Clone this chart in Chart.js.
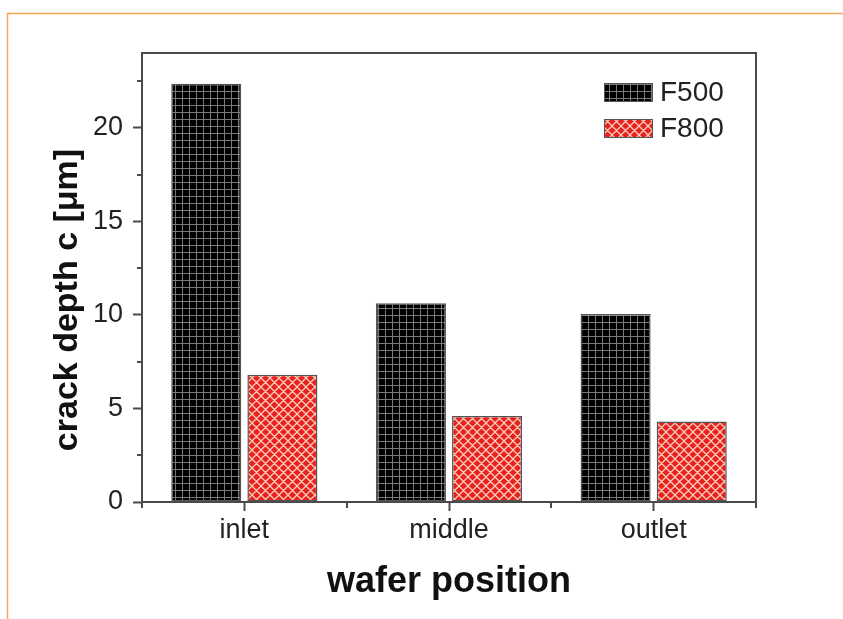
<!DOCTYPE html>
<html>
<head>
<meta charset="utf-8">
<title>crack depth vs wafer position</title>
<script src="https://cdn.jsdelivr.net/npm/chart.js@4.4.1/dist/chart.umd.min.js"></script>
<style>
  body { margin: 0; background: #fff; }
  #wrap { width: 843px; height: 619px; }
</style>
</head>
<body>
<div id="wrap"><canvas id="crackChart" width="843" height="619"></canvas></div>
<script>
// values
const positions = ['inlet', 'middle', 'outlet'];
const seriesNames = ['F500', 'F800'];
const f500Depth = [22.35, 10.62, 10.05];
const f800Depth = [6.8, 4.6, 4.3];
const yMinorTicks = [2.5, 7.5, 12.5, 17.5, 22.5];

const fontFamily = "'Liberation Sans', Arial, Helvetica, sans-serif";
const axisColor = '#4a4a4a';
const textColor = '#222';

// black with grey grid
function makeGridPattern() {
  const c = document.createElement('canvas');
  c.width = 7; c.height = 7;
  const g = c.getContext('2d');
  g.fillStyle = '#000';
  g.fillRect(0, 0, 7, 7);
  g.fillStyle = '#7a7a7a';
  g.fillRect(0, 0, 7, 1);
  g.fillRect(0, 0, 1, 7);
  return g.createPattern(c, 'repeat');
}

// red with light diagonal cross hatch
function makeDiamondPattern() {
  const s = 9;
  const c = document.createElement('canvas');
  c.width = s; c.height = s;
  const g = c.getContext('2d');
  g.fillStyle = '#e8211c';
  g.fillRect(0, 0, s, s);
  g.strokeStyle = '#f9cdbd';
  g.lineWidth = 1.3;
  g.beginPath();
  for (let k = -1; k <= 1; k++) {
    g.moveTo(-2, -2 + k * s); g.lineTo(s + 2, s + 2 + k * s);
    g.moveTo(-2, s + 2 + k * s); g.lineTo(s + 2, -2 + k * s);
  }
  g.stroke();
  return g.createPattern(c, 'repeat');
}

const f500Fill = makeGridPattern();
const f800Fill = makeDiamondPattern();

const framePlugin = {
  id: 'frame',
  beforeDraw(chart) {
    const ctx = chart.ctx;
    ctx.save();
    ctx.fillStyle = '#fff';
    ctx.fillRect(0, 0, chart.width, chart.height);
    ctx.strokeStyle = '#f2a65a';
    ctx.lineWidth = 1.5;
    ctx.beginPath();
    ctx.moveTo(7.5, chart.height);
    ctx.lineTo(7.5, 13.5);
    ctx.lineTo(chart.width, 13.5);
    ctx.stroke();
    ctx.restore();
  },
  afterDraw(chart) {
    const ctx = chart.ctx;
    const a = chart.chartArea;
    const x = chart.scales.x;
    const y = chart.scales.y;
    ctx.save();
    ctx.strokeStyle = axisColor;
    ctx.lineWidth = 2;
    // top and right sides of the box
    ctx.beginPath();
    ctx.moveTo(a.left - 1, a.top);
    ctx.lineTo(a.right, a.top);
    ctx.lineTo(a.right, a.bottom + 1);
    ctx.stroke();

    // minor ticks
    ctx.beginPath();
    yMinorTicks.forEach(v => {
      const py = Math.round(y.getPixelForValue(v));
      ctx.moveTo(a.left - 5, py);
      ctx.lineTo(a.left, py);
    });
    for (let i = 0; i <= positions.length; i++) {
      let px;
      if (i === 0) px = a.left;
      else if (i === positions.length) px = a.right;
      else px = (x.getPixelForValue(i - 1) + x.getPixelForValue(i)) / 2;
      px = Math.round(px);
      ctx.moveTo(px, a.bottom);
      ctx.lineTo(px, a.bottom + 6);
    }
    ctx.stroke();

    // y axis title
    ctx.fillStyle = '#111';
    ctx.font = 'bold 34px ' + fontFamily;
    ctx.textAlign = 'center';
    ctx.textBaseline = 'alphabetic';
    ctx.translate(77, 300);
    ctx.rotate(-Math.PI / 2);
    ctx.fillText('crack depth c [\u03bcm]', 0, 0);
    ctx.restore();

    // legend
    ctx.save();
    const fills = [f500Fill, f800Fill];
    const rows = [83, 119];
    ctx.font = '28px ' + fontFamily;
    ctx.textBaseline = 'middle';
    ctx.textAlign = 'left';
    seriesNames.forEach((name, i) => {
      ctx.fillStyle = fills[i];
      ctx.fillRect(604, rows[i], 49, 19);
      ctx.strokeStyle = '#555';
      ctx.lineWidth = 1;
      ctx.strokeRect(604.5, rows[i] + 0.5, 48, 18);
      ctx.fillStyle = textColor;
      ctx.fillText(name, 660, rows[i] + 10);
    });
    ctx.restore();
  }
};

new Chart(document.getElementById('crackChart'), {
  type: 'bar',
  data: {
    labels: positions,
    datasets: [
      {
        label: seriesNames[0],
        data: f500Depth,
        backgroundColor: f500Fill,
        borderColor: '#555',
        borderWidth: 1.5,
        borderSkipped: false,
        categoryPercentage: 0.744,
        barPercentage: 0.92
      },
      {
        label: seriesNames[1],
        data: f800Depth,
        backgroundColor: f800Fill,
        borderColor: '#555',
        borderWidth: 1.5,
        borderSkipped: false,
        categoryPercentage: 0.744,
        barPercentage: 0.92
      }
    ]
  },
  options: {
    responsive: false,
    animation: false,
    devicePixelRatio: 1,
    layout: { padding: { top: 53, right: 87, left: 0, bottom: 0 } },
    plugins: {
      legend: { display: false },
      tooltip: { enabled: false }
    },
    scales: {
      x: {
        grid: { display: true, drawOnChartArea: false, offset: false, tickLength: 9, tickWidth: 2, tickColor: axisColor },
        border: { color: axisColor, width: 2 },
        ticks: { color: textColor, font: { family: fontFamily, size: 27 }, padding: 3, maxRotation: 0 },
        title: {
          display: true,
          text: 'wafer position',
          color: '#111',
          font: { family: fontFamily, size: 36, weight: 'bold' },
          padding: { top: 0, bottom: 15 }
        },
        afterFit(scale) { scale.height = 117; }
      },
      y: {
        min: 0,
        max: 24,
        grid: { display: true, drawOnChartArea: false, tickLength: 9, tickWidth: 2, tickColor: axisColor },
        border: { color: axisColor, width: 2 },
        ticks: { stepSize: 5, includeBounds: false, color: textColor, font: { family: fontFamily, size: 27 }, padding: 10 },
        afterFit(scale) { scale.width = 142; }
      }
    }
  },
  plugins: [framePlugin]
});
</script>
</body>
</html>
